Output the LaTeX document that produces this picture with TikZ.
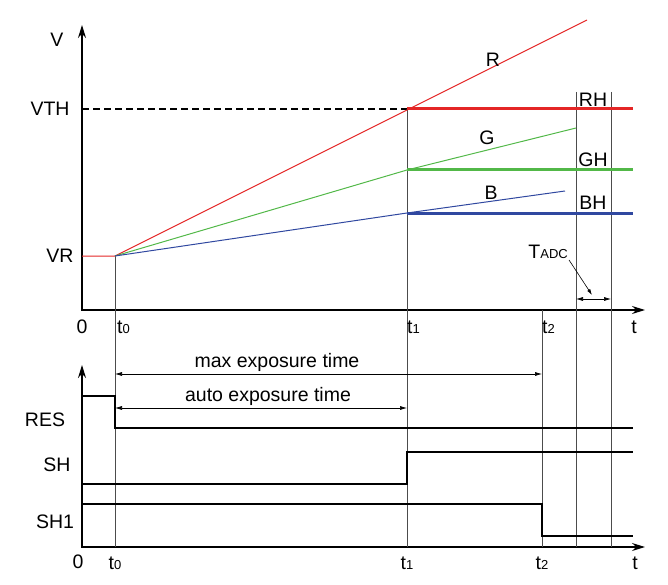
\documentclass[tikz,border=0pt]{standalone}
\usepackage{fontspec}
\setmainfont{Liberation Sans}
\usetikzlibrary{arrows.meta}
\definecolor{rcol}{RGB}{228,38,38}
\definecolor{gcol}{RGB}{82,184,72}
\definecolor{bcol}{RGB}{48,72,160}
\newcommand{\lowsub}[1]{{\fontsize{13}{13}\selectfont #1}}
\tikzset{
  axis/.style={line width=1.4pt,{Stealth[length=13pt,width=8pt]}-{Stealth[length=13pt,width=8pt]}},
  vline/.style={line width=0.9pt,black!70},
  signal/.style={line width=2pt},
  ramp/.style={line width=1pt},
  hold/.style={line width=3pt},
  span/.style={line width=0.6pt,{Latex[length=7pt,width=4pt]}-{Latex[length=7pt,width=4pt]}},
  lbl/.style={font=\fontsize{19.5}{21}\selectfont,inner sep=1pt},
}
\begin{document}
\begin{tikzpicture}[x=1pt,y=-1pt]
\useasboundingbox (0,0) rectangle (668,585);
% axes
\coordinate (vtop) at (82,25); \coordinate (o1) at (82,310); \coordinate (tend1) at (645,310);
\coordinate (stop) at (82,365); \coordinate (o2) at (82,547); \coordinate (tend2) at (645,547);
\draw[axis] (vtop) -- (o1) -- (tend1);
\draw[axis] (stop) -- (o2) -- (tend2);
% time markers
\coordinate (t0a) at (115,256); \coordinate (t0b) at (115,547);
\coordinate (t1a) at (407,107); \coordinate (t1b) at (407,547);
\coordinate (t2a) at (542,310); \coordinate (t2b) at (542,547);
\coordinate (taa) at (576,92);  \coordinate (tab) at (576,547);
\coordinate (tba) at (611,92);  \coordinate (tbb) at (611,547);
\foreach \p in {t0,t1,t2,ta,tb} \draw[vline] (\p a) -- (\p b);
% ramps and hold levels
\coordinate (vr) at (82,256); \coordinate (vth) at (82,109);
\coordinate (rh) at (407,109); \coordinate (gh) at (407,170); \coordinate (bh) at (407,213);
\draw[dashed,line width=1.3pt,dash pattern=on 7pt off 4pt] (vth) -- (rh);
\draw[ramp,rcol] (vr) -- (t0a) -- (587,20);
\draw[ramp,gcol] (t0a) -- (gh) -- (576,128);
\draw[ramp,bcol] (t0a) -- (bh) -- (565,191);
\draw[hold,rcol] (rh) -- (633,109);
\draw[hold,gcol] (gh) -- (633,170);
\draw[hold,bcol] (bh) -- (633,213);
% control signals
\draw[signal] (82,396) -- (115,396) -- (115,428) -- (633,428);
\draw[signal] (82,484) -- (407,484) -- (407,452) -- (633,452);
\draw[signal] (82,504) -- (542,504) -- (542,536) -- (633,536);
% spans
\draw[span] (115,374) -- (542,374);
\draw[span] (115,408) -- (407,408);
\node[lbl] (mx) at (277,362) {max exposure time};
\node[lbl] (au) at (268,396) {auto exposure time};
\draw[span] (576,299) -- (611,299);
\node[lbl,anchor=east] (tadc) at (569,252) {T\lowsub{ADC}};
\draw[line width=0.6pt,-{Latex[length=6pt,width=3.5pt]}] (tadc.south east) -- (592,295);
% labels
\node[lbl] (lv) at (57,40) {V};
\node[lbl] (lvth) at (50,109) {VTH};
\node[lbl] (lvr) at (60,256) {VR};
\node[lbl] (lr) at (493,60) {R};
\node[lbl] (lg) at (487,138) {G};
\node[lbl] (lb) at (491,193) {B};
\node[lbl] (lrh) at (593,100) {RH};
\node[lbl] (lgh) at (593,160) {GH};
\node[lbl] (lbh) at (593,203) {BH};
\node[lbl] (z1) at (82,327) {0};
\node[lbl,anchor=west] (a0) at (116,327) {t\lowsub{0}};
\node[lbl,anchor=west] (a1) at (406,327) {t\lowsub{1}};
\node[lbl,anchor=west] (a2) at (541,327) {t\lowsub{2}};
\node[lbl] (at) at (634,327) {t};
\node[lbl] (lres) at (45,420) {RES};
\node[lbl] (lsh) at (57,465) {SH};
\node[lbl] (lsh1) at (55,522) {SH1};
\node[lbl] (z2) at (78,562) {0};
\node[lbl] (b0) at (115,563) {t\lowsub{0}};
\node[lbl] (b1) at (407,563) {t\lowsub{1}};
\node[lbl] (b2) at (542,563) {t\lowsub{2}};
\node[lbl] (bt) at (635,563) {t};
\end{tikzpicture}
\end{document}
